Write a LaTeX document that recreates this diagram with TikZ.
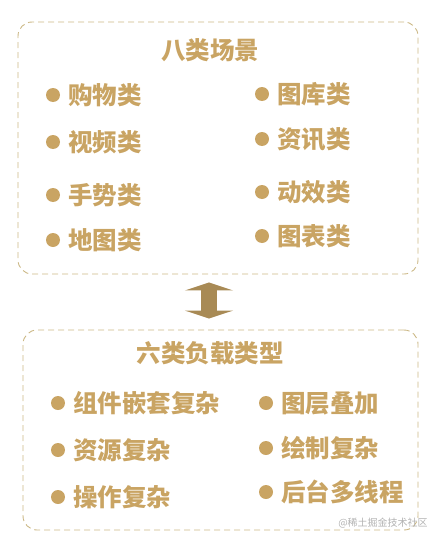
\documentclass[tikz,border=0pt]{standalone}
\usepackage{fontspec}
\newfontfamily\cjk{Noto Sans CJK SC}
\usepackage{tikz}
\usetikzlibrary{positioning,arrows.meta}
\definecolor{gold}{HTML}{C9A463}
\definecolor{goldline}{HTML}{CBB784}
\definecolor{arrowgold}{HTML}{A88A55}
\tikzstyle{panel}   = [draw=goldline, dash pattern=on 6pt off 4pt, rounded corners=14pt, line width=0.9pt, inner sep=0pt]
\tikzstyle{heading} = [font=\cjk\bfseries\fontsize{24.5}{27}\selectfont, text=gold, inner sep=0pt]
\tikzstyle{item}    = [font=\cjk\bfseries\fontsize{24.5}{27}\selectfont, text=gold, inner sep=0pt]
\tikzstyle{dot}     = [circle, fill=gold, minimum size=14pt, inner sep=0pt]
\tikzstyle{updown}  = [{Triangle[width=48pt,length=8pt]}-{Triangle[width=48pt,length=8pt]}, line width=16pt, draw=arrowgold]
\tikzstyle{stamp}   = [font=\cjk\fontsize{10}{12}\selectfont, text=black!30, inner sep=0pt]

\begin{document}
\begin{tikzpicture}[x=1pt,y=-1pt]
		\useasboundingbox (0,0) rectangle (439,543);

		\node[panel, minimum width=400pt, minimum height=252pt] (scenes) at (218,148) {};
		\node[panel, minimum width=395pt, minimum height=200pt] (loads) at (220.5,430) {};

		\node[heading] (scenesTitle) at (210,50) {八类场景};
		\node[heading] (loadsTitle) at (210,353) {六类负载类型};

		\node[dot] (d1) at (53,95) {};
		\node[item, right=8pt of d1] (shop) {购物类};
		\node[dot] (d2) at (53,142) {};
		\node[item, right=8pt of d2] (video) {视频类};
		\node[dot] (d3) at (53,195) {};
		\node[item, right=8pt of d3] (gesture) {手势类};
		\node[dot] (d4) at (53,240) {};
		\node[item, right=8pt of d4] (map) {地图类};

		\node[dot] (d5) at (262,94) {};
		\node[item, right=8pt of d5] (gallery) {图库类};
		\node[dot] (d6) at (262,139) {};
		\node[item, right=8pt of d6] (news) {资讯类};
		\node[dot] (d7) at (262,192) {};
		\node[item, right=8pt of d7] (anim) {动效类};
		\node[dot] (d8) at (262,236) {};
		\node[item, right=8pt of d8] (chart) {图表类};

		\node[dot] (e1) at (58,403) {};
		\node[item, right=8pt of e1] (nesting) {组件嵌套复杂};
		\node[dot] (e2) at (58,450) {};
		\node[item, right=8pt of e2] (resource) {资源复杂};
		\node[dot] (e3) at (58,497) {};
		\node[item, right=8pt of e3] (operation) {操作复杂};

		\node[dot] (e4) at (266,403) {};
		\node[item, right=8pt of e4] (layers) {图层叠加};
		\node[dot] (e5) at (266,448) {};
		\node[item, right=8pt of e5] (drawing) {绘制复杂};
		\node[dot] (e6) at (266,492) {};
		\node[item, right=8pt of e6] (threads) {后台多线程};

		% arrow between the two panels
		\draw[updown, shorten <=8pt, shorten >=11pt] ([xshift=-9pt]scenes.south) -- ([xshift=-11.5pt]loads.north);

		\node[stamp] (watermark) at (383,523) {@稀土掘金技术社区};
	\end{tikzpicture}
\end{document}
